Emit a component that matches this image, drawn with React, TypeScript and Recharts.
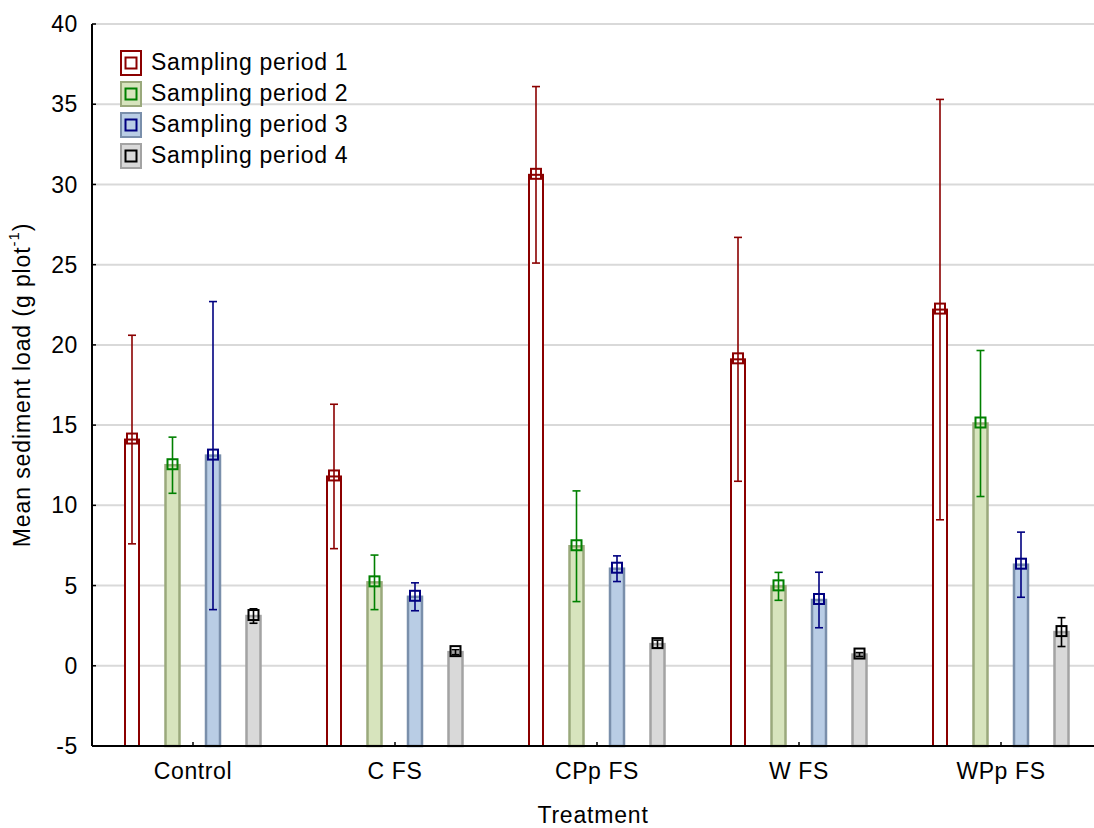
import React from 'react';
import { BarChart, Bar, XAxis, YAxis, CartesianGrid, ErrorBar, Legend } from 'recharts';

// Mean sediment load per treatment, four sampling periods (mean ± error)
const treatments = ['Control', 'C FS', 'CPp FS', 'W FS', 'WPp FS'];

const period1Mean = [14.1, 11.8, 30.6, 19.1, 22.2];
const period1Err = [6.5, 4.5, 5.5, 7.6, 13.1];
const period2Mean = [12.5, 5.2, 7.45, 4.95, 15.1];
const period2Err = [1.75, 1.7, 3.45, 0.87, 4.55];
const period3Mean = [13.1, 4.3, 6.05, 4.1, 6.3];
const period3Err = [9.6, 0.87, 0.8, 1.73, 2.03];
const period4Mean = [3.1, 0.85, 1.35, 0.7, 2.1];
const period4Err = [0.45, 0.15, 0.25, 0.12, 0.9];

const yTicks = [-5, 0, 5, 10, 15, 20, 25, 30, 35, 40];
const axisFloor = -5;

interface SeriesStyle {
  key: string;
  label: string;
  fill: string;
  stroke: string;
  marker: string;
}

const series: SeriesStyle[] = [
  { key: 'p1', label: 'Sampling period 1', fill: '#ffffff', stroke: '#8b0000', marker: '#8b0000' },
  { key: 'p2', label: 'Sampling period 2', fill: '#d7e4bd', stroke: '#9aa97c', marker: '#008000' },
  { key: 'p3', label: 'Sampling period 3', fill: '#b9cde5', stroke: '#7a8fab', marker: '#000080' },
  { key: 'p4', label: 'Sampling period 4', fill: '#d9d9d9', stroke: '#a3a3a3', marker: '#000000' },
];

// bars run from the bottom of the axis up to the mean
const data = treatments.map((name, i) => ({
  name,
  p1: [axisFloor, period1Mean[i]],
  p1Err: period1Err[i],
  p2: [axisFloor, period2Mean[i]],
  p2Err: period2Err[i],
  p3: [axisFloor, period3Mean[i]],
  p3Err: period3Err[i],
  p4: [axisFloor, period4Mean[i]],
  p4Err: period4Err[i],
}));

const FONT = '"Liberation Sans", Arial, sans-serif';

const makeBarShape = (s: SeriesStyle) => (props: any) => {
  const { x, y, width, height } = props;
  const cx = x + width / 2;
  const sw = s.key === 'p1' ? 2 : 2.5;
  return (
    <g>
      <rect x={x} y={y} width={width} height={height} fill={s.fill} stroke={s.stroke} strokeWidth={sw} />
      <rect x={cx - 5} y={y - 6} width={10} height={10} fill="none" stroke={s.marker} strokeWidth={2} />
    </g>
  );
};

const renderYLabel = (props: any) => {
  const vb = props.viewBox || { x: 0, y: 24, width: 92, height: 722 };
  const cx = vb.x + 22;
  const cy = vb.y + vb.height / 2;
  return (
    <text
      x={cx}
      y={cy}
      transform={`rotate(-90 ${cx} ${cy})`}
      textAnchor="middle"
      dominantBaseline="central"
      fontSize={23}
      letterSpacing={0.9}
      fill="#000"
    >
      Mean sediment load (g plot
      <tspan dy={-9} fontSize={15}>-1</tspan>
      <tspan dy={9}>)</tspan>
    </text>
  );
};

const renderXLabel = (props: any) => {
  const vb = props.viewBox || { x: 92, y: 746, width: 1010, height: 82 };
  return (
    <text x={vb.x + vb.width / 2 - 4} y={vb.y + 77} textAnchor="middle" fontSize={23} letterSpacing={0.8} fill="#000">
      Treatment
    </text>
  );
};

const LegendBox = () => (
  <div style={{ fontFamily: FONT }}>
    {series.map((s) => (
      <div key={s.key} style={{ display: 'flex', alignItems: 'center', height: 31 }}>
        <svg width={22} height={26}>
          <rect x={1} y={1} width={20} height={24} fill={s.fill} stroke={s.stroke} strokeWidth={2} />
          <rect x={5.5} y={7.5} width={11} height={11} fill="none" stroke={s.marker} strokeWidth={2} />
        </svg>
        <span style={{ marginLeft: 9, fontSize: 23, letterSpacing: 0.7, color: '#000', whiteSpace: 'nowrap' }}>
          {s.label}
        </span>
      </div>
    ))}
  </div>
);

const tickStyle = { fill: '#000', fontSize: 23, letterSpacing: 0.6 };

const App: React.FC = () => {
  return (
    <div
      style={{
        position: 'fixed',
        left: 0,
        top: 0,
        width: 1094,
        height: 828,
        overflow: 'hidden',
        background: '#fff',
        fontFamily: FONT,
      }}
    >
      <BarChart
        width={1120}
        height={828}
        data={data}
        margin={{ top: 24, right: 18, bottom: 0, left: 0 }}
        barSize={14}
        barGap={26.5}
      >
        <CartesianGrid vertical={false} stroke="#d9d9d9" strokeWidth={2} />
        <XAxis
          dataKey="name"
          height={82}
          interval={0}
          tickSize={-4}
          tickMargin={21}
          axisLine={{ stroke: '#000', strokeWidth: 2 }}
          tickLine={{ stroke: '#000', strokeWidth: 1.5 }}
          tick={tickStyle}
          label={renderXLabel}
        />
        <XAxis
          xAxisId="top"
          dataKey="name"
          orientation="top"
          height={0}
          interval={0}
          tick={false}
          tickSize={-4}
          axisLine={{ stroke: '#000', strokeWidth: 2 }}
          tickLine={{ stroke: '#000', strokeWidth: 1.5 }}
        />
        <YAxis
          width={92}
          domain={[-5, 40]}
          ticks={yTicks}
          interval={0}
          tickSize={-4}
          tickMargin={18}
          axisLine={{ stroke: '#000', strokeWidth: 2 }}
          tickLine={{ stroke: '#000', strokeWidth: 1.5 }}
          tick={tickStyle}
          label={renderYLabel}
        />
        <Legend
          layout="vertical"
          align="center"
          verticalAlign="middle"
          wrapperStyle={{ top: 47, left: 120, width: 280 }}
          content={() => <LegendBox />}
        />
        {series.map((s) => (
          <Bar
            key={s.key}
            dataKey={s.key}
            name={s.label}
            fill={s.fill}
            stroke={s.stroke}
            shape={makeBarShape(s)}
            isAnimationActive={false}
          >
            <ErrorBar dataKey={`${s.key}Err`} width={4} stroke={s.marker} strokeWidth={1.6} direction="y" />
          </Bar>
        ))}
      </BarChart>
    </div>
  );
};

export default App;
